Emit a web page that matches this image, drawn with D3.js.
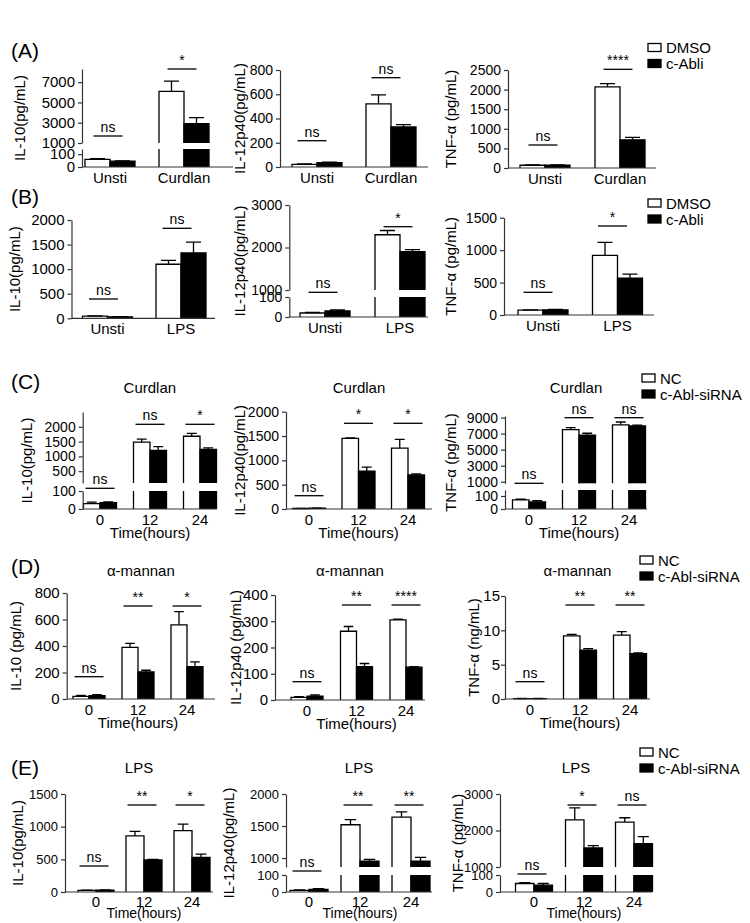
<!DOCTYPE html>
<html>
<head>
<meta charset="utf-8">
<script src="https://cdn.jsdelivr.net/npm/d3@7"></script>
<style>body { margin: 0; background: #fff; }</style>
</head>
<body>
<script>
// ---- data ----
const stimA = ['Unsti', 'Curdlan']
const stimB = ['Unsti', 'LPS']
const hours = ['0', '12', '24']
const legendDrug = ['DMSO', 'c-Abli']
const legendSi = ['NC', 'c-Abl-siRNA']

// (A) Curdlan, DMSO vs c-Abli
const a1Ctrl = [60, 6100], a1CtrlErr = [5, 1000], a1Trt = [45, 2900], a1TrtErr = [3, 600], a1Sig = ['ns', '*']
const a2Ctrl = [22, 520], a2CtrlErr = [3, 75], a2Trt = [35, 330], a2TrtErr = [5, 20], a2Sig = ['ns', 'ns']
const a3Ctrl = [70, 2070], a3CtrlErr = [8, 80], a3Trt = [70, 720], a3TrtErr = [8, 60], a3Sig = ['ns', '****']
// (B) LPS, DMSO vs c-Abli
const b1Ctrl = [45, 1100], b1CtrlErr = [5, 80], b1Trt = [30, 1330], b1TrtErr = [4, 220], b1Sig = ['ns', 'ns']
const b2Ctrl = [20, 2300], b2CtrlErr = [3, 100], b2Trt = [30, 1900], b2TrtErr = [5, 50], b2Sig = ['ns', '*']
const b3Ctrl = [75, 920], b3CtrlErr = [5, 200], b3Trt = [80, 570], b3TrtErr = [5, 60], b3Sig = ['ns', '*']
// (C) Curdlan time course, NC vs siRNA
const c1Ctrl = [30, 1480, 1680], c1CtrlErr = [8, 100, 100], c1Trt = [35, 1200, 1240], c1TrtErr = [5, 130, 50], c1Sig = ['ns', 'ns', '*']
const c2Ctrl = [10, 1450, 1250], c2CtrlErr = [2, 10, 180], c2Trt = [15, 780, 700], c2TrtErr = [3, 80, 20], c2Sig = ['ns', '*', '*']
const c3Ctrl = [70, 7500, 8100], c3CtrlErr = [5, 250, 350], c3Trt = [55, 6800, 7950], c3TrtErr = [10, 250, 120], c3Sig = ['ns', 'ns', 'ns']
// (D) alpha-mannan time course
const d1Ctrl = [20, 390, 560], d1CtrlErr = [8, 30, 100], d1Trt = [25, 205, 245], d1TrtErr = [8, 12, 35], d1Sig = ['ns', '**', '*']
const d2Ctrl = [10, 262, 305], d2CtrlErr = [3, 18, 3], d2Trt = [15, 127, 125], d2TrtErr = [4, 12, 2], d2Sig = ['ns', '**', '****']
const d3Ctrl = [0.05, 9.2, 9.3], d3CtrlErr = [0.02, 0.2, 0.5], d3Trt = [0.05, 7.1, 6.6], d3TrtErr = [0.02, 0.25, 0.1], d3Sig = ['ns', '**', '**']
// (E) LPS time course
const e1Ctrl = [25, 860, 940], e1CtrlErr = [3, 67, 100], e1Trt = [30, 490, 530], e1TrtErr = [4, 10, 50], e1Sig = ['ns', '**', '*']
const e2Ctrl = [10, 1520, 1640], e2CtrlErr = [3, 80, 80], e2Trt = [15, 950, 950], e2TrtErr = [4, 30, 60], e2Sig = ['ns', '**', '**']
const e3Ctrl = [50, 2290, 2230], e3CtrlErr = [5, 330, 120], e3Trt = [40, 1520, 1640], e3TrtErr = [10, 65, 190], e3Sig = ['ns', '*', 'ns']

// tick values
const ticksLow = [0, 100]
const a1Ticks = [1000, 3000, 5000, 7000]
const a2Ticks = [0, 200, 400, 600, 800]
const a3Ticks = [0, 500, 1000, 1500, 2000, 2500]
const b1Ticks = [0, 500, 1000, 1500, 2000]
const b2Ticks = [1000, 2000, 3000]
const b3Ticks = [0, 500, 1000, 1500]
const c1Ticks = [500, 1000, 1500, 2000]
const c2Ticks = [0, 500, 1000, 1500, 2000]
const c3Ticks = [1000, 3000, 5000, 7000, 9000]
const d1Ticks = [0, 200, 400, 600, 800]
const d2Ticks = [0, 100, 200, 300, 400]
const d3Ticks = [0, 5, 10, 15]
const e1Ticks = [0, 500, 1000, 1500]
const e2Ticks = [1000, 1500, 2000]
const e3Ticks = [1000, 2000, 3000]

const FONT = '"Liberation Sans", Arial, Helvetica, sans-serif'
const INK = '#000'
const AXIS = '#333'

const svg = d3.select('body').append('svg')
    .attr('width', 750)
    .attr('height', 923)
    .style('font-family', FONT)

// one bar chart (optionally with a broken y axis: segs listed bottom first)
const drawPanel = p => {
    const g = svg.append('g')
    const x = d3.scalePoint().domain(p.groups).range(p.xRange)
    const segs = p.segs.map(s => Object.assign({}, s, { y: d3.scaleLinear().domain(s.domain).range(s.range) }))
    const last = segs[segs.length - 1]
    const base = segs[0].range[0]
    const yVal = v => {
        const s = segs.find(s => v <= s.domain[1]) || last
        return s.y(Math.max(v, s.domain[0]))
    }

    const series = [
        { vals: p.ctrl, err: p.ctrlErr, fill: '#fff', side: -1 },
        { vals: p.trt, err: p.trtErr, fill: '#000', side: 0 }
    ]

    series.forEach(se => {
        p.groups.forEach((grp, i) => {
            const v = se.vals[i]
            const x0 = se.side < 0 ? x(grp) - p.barW : x(grp)
            const x1 = x0 + p.barW
            segs.forEach((s, si) => {
                if (si > 0 && v <= s.domain[0]) return
                const yb = s.range[0]
                const ends = v <= s.domain[1] || si === segs.length - 1
                const yt = s.y(Math.min(v, s.domain[1]))
                g.append('rect')
                    .attr('x', x0).attr('y', yt)
                    .attr('width', p.barW).attr('height', Math.max(0, yb - yt))
                    .attr('fill', se.fill)
                const path = d3.path()
                path.moveTo(x0, yb)
                path.lineTo(x0, yt)
                if (ends) path.lineTo(x1, yt)
                else path.moveTo(x1, yt)
                path.lineTo(x1, yb)
                g.append('path')
                    .attr('d', path.toString())
                    .attr('fill', 'none')
                    .attr('stroke', INK)
                    .attr('stroke-width', 1.3)
            })
            // error bar (upper only)
            const cx = (x0 + x1) / 2
            const yt = yVal(v)
            const ye = yVal(v + se.err[i])
            const cap = p.barW * 0.3
            g.append('path')
                .attr('d', `M${cx},${yt}V${ye}M${cx - cap},${ye}H${cx + cap}`)
                .attr('fill', 'none')
                .attr('stroke', INK)
                .attr('stroke-width', 1.3)
        })
    })

    // y axis pieces
    segs.forEach(s => {
        const ax = g.append('g')
            .attr('transform', `translate(${p.ax},0)`)
            .call(d3.axisLeft(s.y).tickValues(s.ticks).tickSize(4).tickSizeOuter(0)
                .tickPadding(p.tickPad === undefined ? 3 : p.tickPad).tickFormat(d3.format('d')))
        ax.selectAll('path, line').attr('stroke', AXIS).attr('stroke-width', 1.2)
        ax.selectAll('text')
            .attr('font-family', FONT)
            .attr('font-size', p.tickFont || 14)
            .attr('fill', INK)
    })

    // x baseline
    g.append('line')
        .attr('x1', p.ax).attr('x2', p.xEnd)
        .attr('y1', base).attr('y2', base)
        .attr('stroke', AXIS).attr('stroke-width', 1.2)

    // category labels
    g.selectAll('.cat')
        .data(p.groups)
        .enter()
        .append('text')
        .attr('x', d => x(d))
        .attr('y', base + (p.catDy || 16))
        .attr('text-anchor', 'middle')
        .attr('font-size', 15)
        .text(d => d)

    if (p.xTitle) {
        g.append('text')
            .attr('x', (p.xRange[0] + p.xRange[1]) / 2)
            .attr('y', base + (p.xTitleDy || 29))
            .attr('text-anchor', 'middle')
            .attr('font-size', p.xTitleFont || 15)
            .text(p.xTitle)
    }

    if (p.title) {
        g.append('text')
            .attr('x', (p.ax + p.xEnd) / 2)
            .attr('y', p.titleY)
            .attr('text-anchor', 'middle')
            .attr('font-size', 15)
            .text(p.title)
    }

    // y label
    const yMid = (base + last.range[1]) / 2
    g.append('text')
        .attr('transform', `translate(${p.yLabelX},${yMid}) rotate(-90)`)
        .attr('text-anchor', 'middle')
        .attr('dominant-baseline', 'central')
        .attr('font-size', 15)
        .text(p.yLabel)

    // significance marks
    p.groups.forEach((grp, i) => {
        const c = x(grp) + (p.sigDx || 0)
        g.append('line')
            .attr('x1', c - 14.5).attr('x2', c + 14.5)
            .attr('y1', p.sigY[i]).attr('y2', p.sigY[i])
            .attr('stroke', INK).attr('stroke-width', 1.3)
        g.append('text')
            .attr('x', c)
            .attr('y', p.sigY[i] - 4)
            .attr('text-anchor', 'middle')
            .attr('font-size', 14)
            .text(p.sig[i])
    })
}

const drawLegend = (x, y, labels) => {
    const g = svg.append('g').attr('transform', `translate(${x},${y})`)
    labels.forEach((d, i) => {
        g.append('rect')
            .attr('x', 0).attr('y', i * 16)
            .attr('width', 13).attr('height', 8)
            .attr('fill', i === 0 ? '#fff' : '#000')
            .attr('stroke', '#000').attr('stroke-width', 1.3)
        g.append('text')
            .attr('x', 18).attr('y', i * 16 + 4)
            .attr('dominant-baseline', 'central')
            .attr('font-size', 15)
            .text(d)
    })
}

const drawTag = (t, y) => {
    svg.append('text')
        .attr('x', 11).attr('y', y)
        .attr('font-size', 21)
        .text(t)
}

const panels = [
    // row A
    { groups: stimA, ctrl: a1Ctrl, ctrlErr: a1CtrlErr, trt: a1Trt, trtErr: a1TrtErr, sig: a1Sig,
      ax: 82, xEnd: 233, xRange: [110, 184], barW: 25, tickFont: 15,
      segs: [{ domain: [0, 140], range: [167, 149], ticks: ticksLow }, { domain: [1000, 8300], range: [143, 69], ticks: a1Ticks }],
      sigY: [136, 69], sigDx: -2, yLabel: 'IL-10(pg/mL)', yLabelX: 19 },
    { groups: stimA, ctrl: a2Ctrl, ctrlErr: a2CtrlErr, trt: a2Trt, trtErr: a2TrtErr, sig: a2Sig,
      ax: 280, xEnd: 428, xRange: [317, 391], barW: 25, tickFont: 14,
      segs: [{ domain: [0, 800], range: [167, 70], ticks: a2Ticks }],
      sigY: [140.7, 77.7], sigDx: -5, yLabel: 'IL-12p40(pg/mL)', yLabelX: 239 },
    { groups: stimA, ctrl: a3Ctrl, ctrlErr: a3CtrlErr, trt: a3Trt, trtErr: a3TrtErr, sig: a3Sig,
      ax: 508, xEnd: 656, xRange: [545, 620], barW: 25, tickFont: 14,
      segs: [{ domain: [0, 2500], range: [168, 70], ticks: a3Ticks }],
      sigY: [145, 69.3], sigDx: -2, yLabel: 'TNF-α (pg/mL)', yLabelX: 450 },
    // row B
    { groups: stimB, ctrl: b1Ctrl, ctrlErr: b1CtrlErr, trt: b1Trt, trtErr: b1TrtErr, sig: b1Sig,
      ax: 71.5, xEnd: 215, xRange: [107.5, 181], barW: 25, tickFont: 15,
      segs: [{ domain: [0, 2000], range: [318.3, 220], ticks: b1Ticks }],
      sigY: [299, 228.3], sigDx: -4, yLabel: 'IL-10(pg/mL)', yLabelX: 14 },
    { groups: stimB, ctrl: b2Ctrl, ctrlErr: b2CtrlErr, trt: b2Trt, trtErr: b2TrtErr, sig: b2Sig,
      ax: 289.3, xEnd: 428, xRange: [325, 400], barW: 25, tickFont: 14,
      segs: [{ domain: [0, 100], range: [317, 297], ticks: ticksLow }, { domain: [1000, 3000], range: [290, 205], ticks: b2Ticks }],
      sigY: [292.3, 226.7], sigDx: -2, yLabel: 'IL-12p40(pg/mL)', yLabelX: 239 },
    { groups: stimB, ctrl: b3Ctrl, ctrlErr: b3CtrlErr, trt: b3Trt, trtErr: b3TrtErr, sig: b3Sig,
      ax: 504, xEnd: 654, xRange: [543, 617.5], barW: 25, tickFont: 14,
      segs: [{ domain: [0, 1500], range: [315, 217.7], ticks: b3Ticks }],
      sigY: [292.3, 226], sigDx: -5, yLabel: 'TNF-α (pg/mL)', yLabelX: 450 },
    // row C
    { groups: hours, ctrl: c1Ctrl, ctrlErr: c1CtrlErr, trt: c1Trt, trtErr: c1TrtErr, sig: c1Sig,
      ax: 82.7, xEnd: 217, xRange: [100, 200], barW: 16.5, tickFont: 14,
      segs: [{ domain: [0, 100], range: [509, 491], ticks: ticksLow }, { domain: [100, 2500], range: [483, 412], ticks: c1Ticks }],
      sigY: [488.3, 424.3, 424.3], yLabel: 'IL-10(pg/mL)', yLabelX: 26,
      title: 'Curdlan', titleY: 393, xTitle: 'Time(hours)' },
    { groups: hours, ctrl: c2Ctrl, ctrlErr: c2CtrlErr, trt: c2Trt, trtErr: c2TrtErr, sig: c2Sig,
      ax: 286, xEnd: 432, xRange: [309, 408], barW: 16.5, tickFont: 14,
      segs: [{ domain: [0, 2000], range: [509, 411.7], ticks: c2Ticks }],
      sigY: [495.7, 423.3, 423.3], yLabel: 'IL-12p40(pg/mL)', yLabelX: 239,
      title: 'Curdlan', titleY: 393, xTitle: 'Time(hours)' },
    { groups: hours, ctrl: c3Ctrl, ctrlErr: c3CtrlErr, trt: c3Trt, trtErr: c3TrtErr, sig: c3Sig,
      ax: 505, xEnd: 647, xRange: [529, 629], barW: 16.5, tickFont: 14,
      segs: [{ domain: [0, 146], range: [509, 490], ticks: ticksLow }, { domain: [800, 9200], range: [483.3, 416], ticks: c3Ticks }],
      sigY: [483.3, 417.7, 417.7], yLabel: 'TNF-α (pg/mL)', yLabelX: 450,
      title: 'Curdlan', titleY: 393, xTitle: 'Time(hours)' },
    // row D
    { groups: hours, ctrl: d1Ctrl, ctrlErr: d1CtrlErr, trt: d1Trt, trtErr: d1TrtErr, sig: d1Sig,
      ax: 66.7, xEnd: 215, xRange: [89, 187], barW: 16, tickFont: 15,
      segs: [{ domain: [0, 800], range: [699, 593], ticks: d1Ticks }],
      sigY: [676.7, 606, 606], yLabel: 'IL-10 (pg/mL)', yLabelX: 15,
      title: 'α-mannan', titleY: 576, xTitle: 'Time(hours)' },
    { groups: hours, ctrl: d2Ctrl, ctrlErr: d2CtrlErr, trt: d2Trt, trtErr: d2TrtErr, sig: d2Sig,
      ax: 275, xEnd: 425, xRange: [307, 406], barW: 16, tickFont: 15,
      segs: [{ domain: [0, 400], range: [700, 595], ticks: d2Ticks }],
      sigY: [681.7, 605, 605], yLabel: 'IL-12p40 (pg/mL)', yLabelX: 235,
      title: 'α-mannan', titleY: 576, xTitle: 'Time(hours)' },
    { groups: hours, ctrl: d3Ctrl, ctrlErr: d3CtrlErr, trt: d3Trt, trtErr: d3TrtErr, sig: d3Sig,
      ax: 505, xEnd: 650, xRange: [530, 630], barW: 16.5, tickFont: 15, tickPad: 1,
      segs: [{ domain: [0, 15], range: [699, 596], ticks: d3Ticks }],
      sigY: [681.7, 605, 605], yLabel: 'TNF-α (ng/mL)', yLabelX: 473,
      title: 'α-mannan', titleY: 576, xTitle: 'Time(hours)' },
    // row E
    { groups: hours, ctrl: e1Ctrl, ctrlErr: e1CtrlErr, trt: e1Trt, trtErr: e1TrtErr, sig: e1Sig,
      ax: 65, xEnd: 213, xRange: [96, 192], barW: 18, tickFont: 13,
      segs: [{ domain: [0, 1500], range: [892, 794], ticks: e1Ticks }],
      sigY: [866, 805, 805], sigDx: -2, yLabel: 'IL-10(pg/mL)', yLabelX: 17,
      title: 'LPS', titleY: 773, xTitle: 'Time(hours)', catDy: 15, xTitleDy: 26, xTitleFont: 14 },
    { groups: hours, ctrl: e2Ctrl, ctrlErr: e2CtrlErr, trt: e2Trt, trtErr: e2TrtErr, sig: e2Sig,
      ax: 286, xEnd: 432, xRange: [309, 411], barW: 19, tickFont: 13,
      segs: [{ domain: [0, 100], range: [892, 875], ticks: ticksLow }, { domain: [860, 2000], range: [867, 794], ticks: e2Ticks }],
      sigY: [871, 805, 805], sigDx: -2, yLabel: 'IL-12p40(pg/mL)', yLabelX: 228,
      title: 'LPS', titleY: 773, xTitle: 'Time(hours)', catDy: 15, xTitleDy: 26, xTitleFont: 14 },
    { groups: hours, ctrl: e3Ctrl, ctrlErr: e3CtrlErr, trt: e3Trt, trtErr: e3TrtErr, sig: e3Sig,
      ax: 500, xEnd: 652, xRange: [534, 634], barW: 18.5, tickFont: 13,
      segs: [{ domain: [0, 100], range: [892, 875], ticks: ticksLow }, { domain: [1000, 3000], range: [867, 794], ticks: e3Ticks }],
      sigY: [874, 805, 805], sigDx: -2, yLabel: 'TNF-α (pg/mL)', yLabelX: 457,
      title: 'LPS', titleY: 773, xTitle: 'Time(hours)', catDy: 15, xTitleDy: 26, xTitleFont: 14 }
]

panels.forEach(drawPanel)

drawLegend(648, 43.5, legendDrug)
drawLegend(648, 199, legendDrug)
drawLegend(642, 374, legendSi)
drawLegend(640, 556, legendSi)
drawLegend(640, 748, legendSi)

drawTag('(A)', 58)
drawTag('(B)', 204)
drawTag('(C)', 389)
drawTag('(D)', 574)
drawTag('(E)', 775)
</script>
</body>
</html>
